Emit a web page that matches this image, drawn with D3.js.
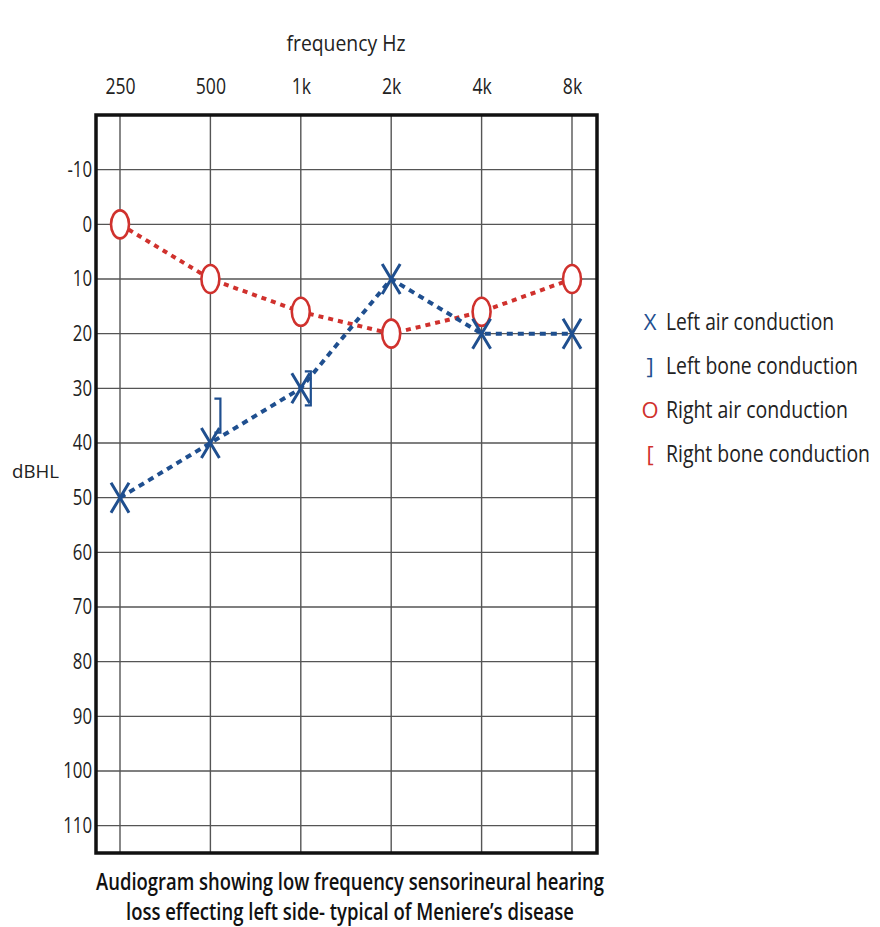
<!DOCTYPE html>
<html><head><meta charset="utf-8">
<script src="https://cdn.jsdelivr.net/npm/d3@7"></script>
<style>
html,body{margin:0;padding:0;background:#fff;}
text{font-family:"Open Sans","Noto Sans",sans-serif;fill:#222;}
</style></head>
<body><svg id="c" width="880" height="927"></svg>
<script>
const frequencies = ["250","500","1k","2k","4k","8k"];
const dbTicks = [-10,0,10,20,30,40,50,60,70,80,90,100,110];
const leftAir = [50,40,30,10,20,20];
const rightAir = [0,10,16,20,16,10];
const leftBone = [{f:"500",v:35},{f:"1k",v:30}];
const rightBone = [];
const legendItems = [
  {sym:"X", label:"Left air conduction", color:"#1f4f8f", w:168},
  {sym:"]", label:"Left bone conduction", color:"#1f4f8f", w:192},
  {sym:"O", label:"Right air conduction", color:"#d0312d", w:182},
  {sym:"[", label:"Right bone conduction", color:"#d0312d", w:204}
];
const caption = [
  {t:"Audiogram showing low frequency sensorineural hearing", w:508},
  {t:"loss effecting left side- typical of Meniere\u2019s disease", w:448}
];

const blue="#1f4f8f", red="#d0312d";
const svg=d3.select("#c");
const L=96,R=597,T=115,B=853;
const x=d3.scalePoint().domain(frequencies).range([120,572]);
const y=d3.scaleLinear().domain([-20,115]).range([T,B]);

// grid
const g=svg.append("g");
g.selectAll("line.v").data(frequencies).join("line")
 .attr("x1",d=>x(d)).attr("x2",d=>x(d)).attr("y1",T).attr("y2",B)
 .attr("stroke","#555").attr("stroke-width",1.4);
g.selectAll("line.h").data(dbTicks).join("line")
 .attr("x1",L).attr("x2",R).attr("y1",d=>y(d)).attr("y2",d=>y(d))
 .attr("stroke","#555").attr("stroke-width",1.4);

// axes
const ax=svg.append("g").attr("transform",`translate(0,${T-21})`)
 .call(d3.axisTop(x).tickSize(0).tickPadding(0));
ax.select(".domain").remove();
ax.selectAll(".tick text").attr("font-size",22).style("font-family",null).attr("fill","#222")
 .attr("transform","scale(0.8,1)");
const ay=svg.append("g").attr("transform",`translate(${L-4},0)`)
 .call(d3.axisLeft(y).tickValues(dbTicks).tickSize(0).tickPadding(0).tickFormat(d=>String(d)));
ay.select(".domain").remove();
ay.selectAll("text").attr("font-size",21).style("font-family",null).attr("fill","#222")
 .attr("transform","scale(0.8,1)");

svg.append("text").attr("x",346).attr("y",51).attr("text-anchor","middle").attr("font-size",21)
 .attr("textLength",119).attr("lengthAdjust","spacingAndGlyphs").text("frequency Hz");
svg.append("text").attr("x",12).attr("y",478).attr("font-size",19)
 .attr("textLength",47).attr("lengthAdjust","spacingAndGlyphs").text("dBHL");

// lines
const line=d3.line().x((d,i)=>x(frequencies[i])).y(d=>y(d));
svg.append("path").datum(rightAir).attr("d",line).attr("fill","none")
 .attr("stroke",red).attr("stroke-width",4).attr("stroke-dasharray","5,5");
svg.append("path").datum(leftAir).attr("d",line).attr("fill","none")
 .attr("stroke",blue).attr("stroke-width",4).attr("stroke-dasharray","6,5");

// markers
function xMark(sel,cx,cy,color){
  sel.append("path").attr("d",`M${cx-9},${cy-15}L${cx+9},${cy+15}M${cx+9},${cy-15}L${cx-9},${cy+15}`)
   .attr("stroke",color).attr("stroke-width",3).attr("fill","none");
}
svg.append("g").selectAll("ellipse").data(rightAir).join("ellipse")
 .attr("cx",(d,i)=>x(frequencies[i])).attr("cy",d=>y(d)).attr("rx",9).attr("ry",14)
 .attr("fill","#fff").attr("stroke",red).attr("stroke-width",2.6);
const xm=svg.append("g");
leftAir.forEach((d,i)=>xMark(xm,x(frequencies[i]),y(d),blue));
svg.append("g").selectAll("path").data(leftBone).join("path")
 .attr("d",d=>{const cx=x(d.f)+4,cy=y(d.v);return `M${cx},${cy-17}L${cx+6},${cy-17}L${cx+6},${cy+17}L${cx},${cy+17}`;})
 .attr("fill","none").attr("stroke",blue).attr("stroke-width",2.2);
svg.append("g").selectAll("path").data(rightBone).join("path")
 .attr("d",d=>{const cx=x(d.f)-10,cy=y(d.v);return `M${cx+6},${cy-17}L${cx},${cy-17}L${cx},${cy+17}L${cx+6},${cy+17}`;})
 .attr("fill","none").attr("stroke",red).attr("stroke-width",2.2);

// border
svg.append("rect").attr("x",L).attr("y",T).attr("width",R-L).attr("height",B-T)
 .attr("fill","none").attr("stroke","#111").attr("stroke-width",3.5);

// legend
const lg=svg.append("g").selectAll("g").data(legendItems).join("g")
 .attr("transform",(d,i)=>`translate(640,${330+i*44})`);
lg.append("text").attr("x",10).attr("text-anchor","middle").attr("font-size",22)
 .style("fill",d=>d.color).text(d=>d.sym);
lg.append("text").attr("x",26).attr("font-size",23)
 .attr("textLength",d=>d.w).attr("lengthAdjust","spacingAndGlyphs").text(d=>d.label);

// caption
svg.append("g").selectAll("text").data(caption).join("text")
 .attr("x",350).attr("y",(d,i)=>890+i*30).attr("text-anchor","middle").attr("font-size",23)
 .attr("font-weight",600).style("fill","#111")
 .attr("textLength",d=>d.w).attr("lengthAdjust","spacingAndGlyphs").text(d=>d.t);
</script></body></html>
